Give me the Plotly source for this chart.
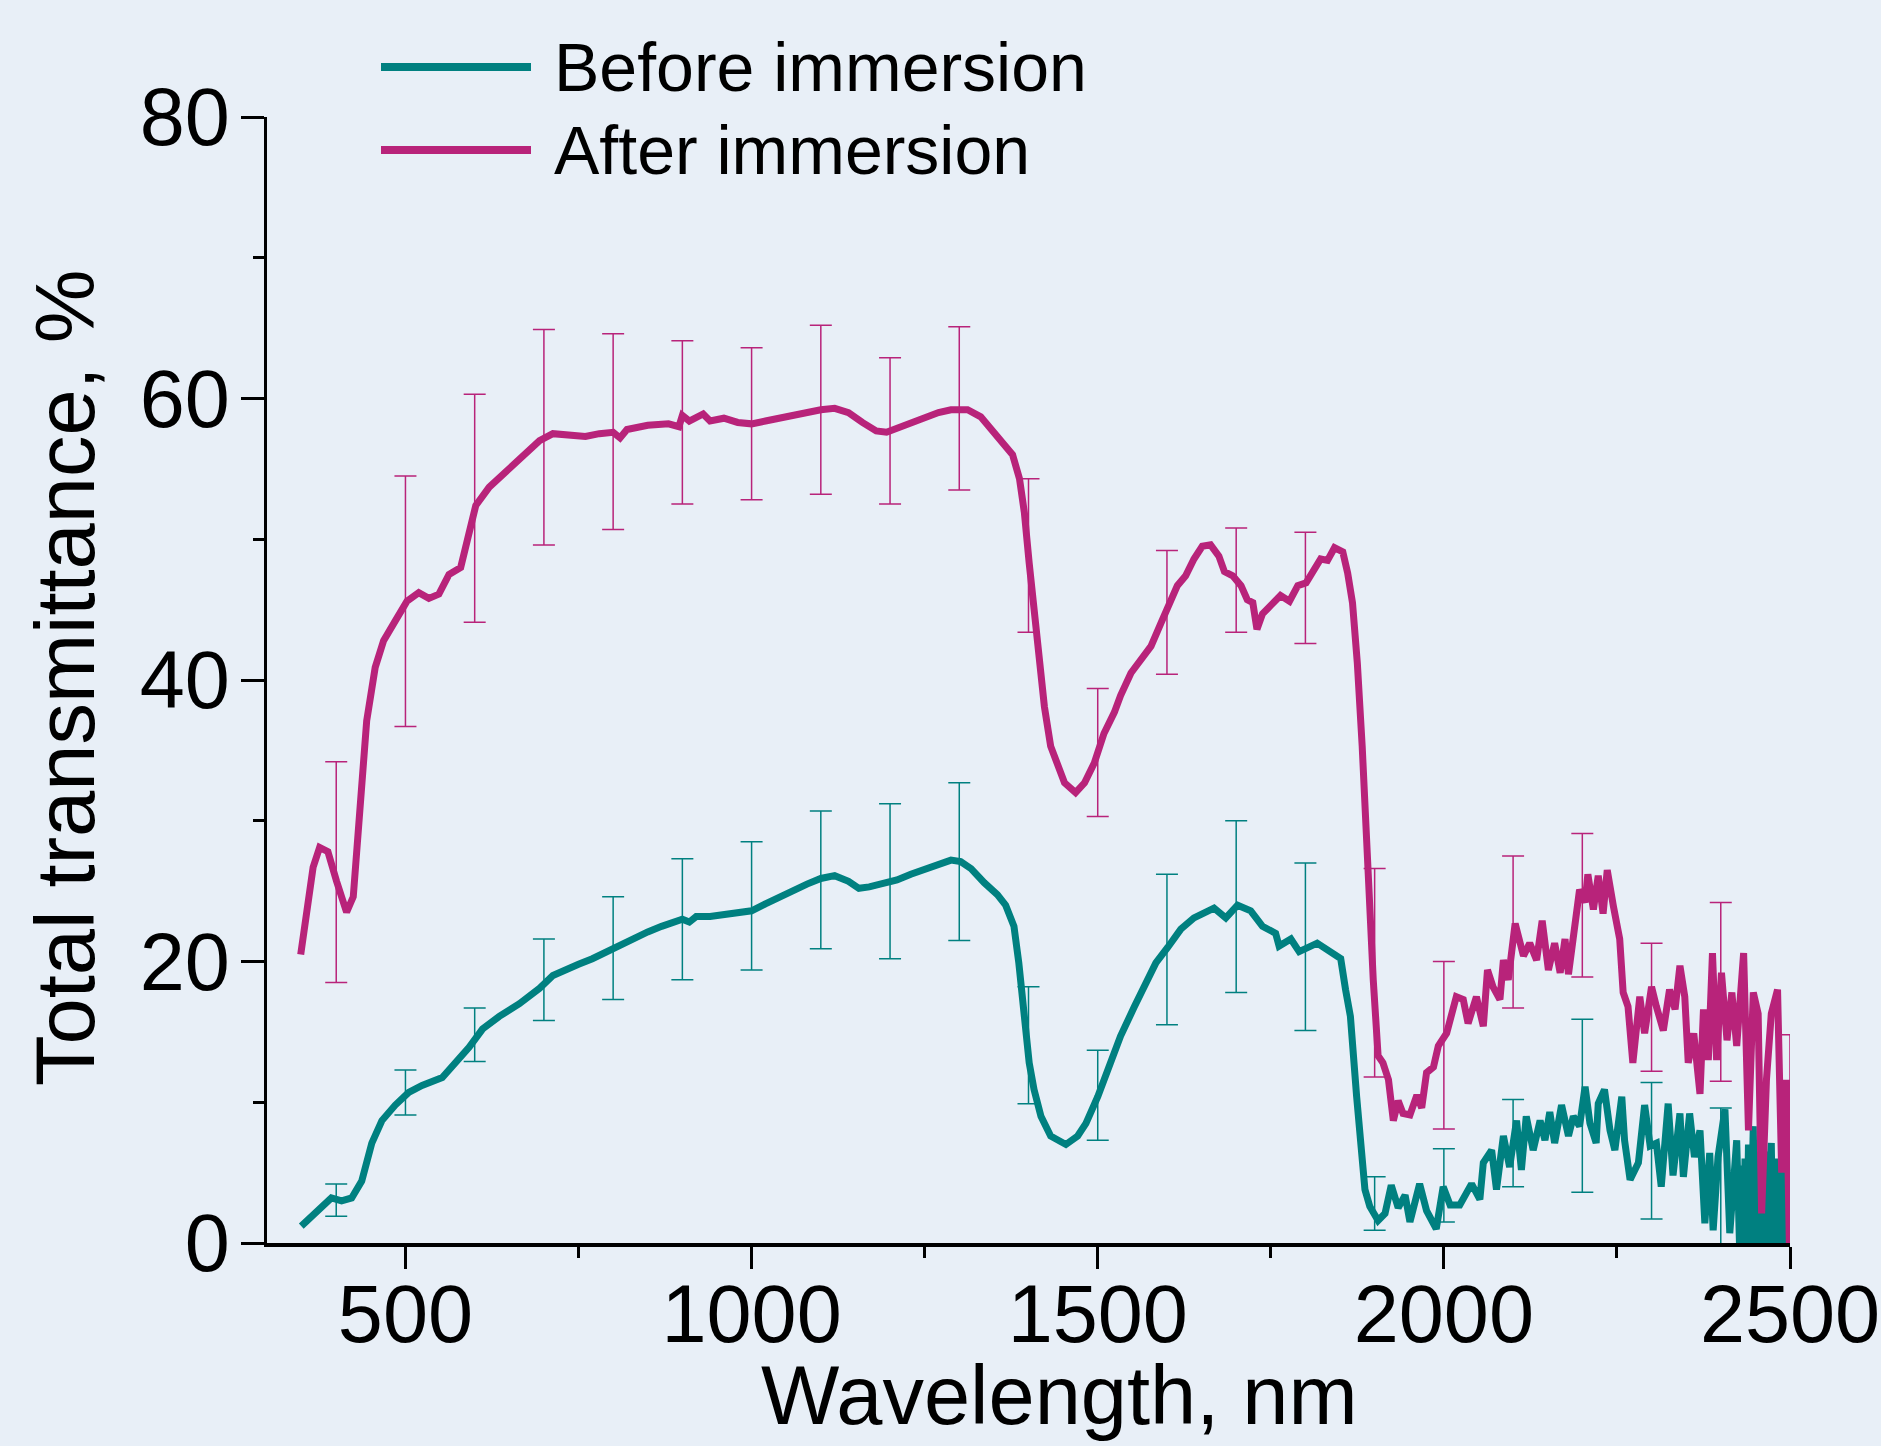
import plotly.graph_objects as go

# ---------------- data ----------------
before_wl = [349.5, 364, 378.6, 393, 407.7, 422.3, 436.8, 451.4, 466, 485.3, 504.7, 524, 553.2, 572.5, 591.9,
             611.3, 635.5, 664.6, 693.7, 713, 730, 750, 770, 790, 810, 830, 850, 870, 890, 900, 910, 920, 940,
             960, 980, 1000, 1020, 1040, 1060, 1080, 1100, 1120, 1140, 1155, 1170, 1190, 1210, 1230, 1250, 1270,
             1288, 1302, 1317, 1336, 1355, 1367, 1379, 1386, 1394, 1401, 1408, 1418, 1432, 1454, 1471, 1483,
             1500, 1514, 1533, 1553, 1567, 1584, 1601, 1620, 1639, 1668, 1685, 1702, 1721, 1738, 1757, 1762,
             1779, 1791, 1817, 1832, 1851, 1858, 1865, 1874, 1880, 1886, 1893, 1905, 1915, 1924, 1934, 1944,
             1951, 1965, 1975, 1989, 1999, 2009, 2023, 2040, 2052, 2057, 2069, 2076, 2086, 2095, 2105, 2112,
             2119, 2129, 2139, 2146, 2153, 2160, 2170, 2180, 2187, 2196, 2204, 2211, 2220, 2223, 2232, 2240,
             2247, 2257, 2261, 2269, 2281, 2290, 2298, 2307, 2314, 2324, 2331, 2341, 2346, 2355, 2362, 2370,
             2377, 2384, 2389, 2396, 2406, 2413, 2423, 2427, 2430, 2433, 2435, 2438, 2440, 2443, 2447, 2449,
             2451, 2454, 2457, 2459, 2461, 2464, 2466, 2468, 2471, 2473, 2475, 2477, 2480, 2483, 2485, 2487,
             2490, 2493, 2495, 2497, 2500]
before_val = [1.2, 1.9, 2.6, 3.2, 3.0, 3.2, 4.4, 7.1, 8.7, 9.8, 10.7, 11.2, 11.75, 12.8, 13.9,
              15.2, 16.1, 17.0, 18.1, 19.0, 19.4, 19.8, 20.2, 20.7, 21.2, 21.7, 22.1, 22.5, 22.8, 23.0, 22.8, 23.2, 23.2,
              23.3, 23.4, 23.6, 24.1, 24.6, 25.1, 25.5, 25.9, 26.1, 25.7, 25.2, 25.3, 25.5, 25.8, 26.2, 26.5, 26.9,
              27.2, 27.1, 26.6, 25.6, 24.75, 24.0, 22.5, 19.9, 16.4, 12.8, 10.9, 9.0, 7.6, 7.0, 7.6, 8.5,
              10.4, 12.3, 14.7, 16.8, 18.2, 19.9, 21.0, 22.3, 23.1, 23.8, 23.1, 24.0, 23.6, 22.5, 22.0, 21.1,
              21.6, 20.7, 21.3, 20.8, 20.2, 18.0, 16.1, 10.4, 6.8, 3.8, 2.6, 1.6, 2.1, 4.1, 2.5, 3.4,
              1.5, 4.2, 2.3, 1.0, 4.0, 2.7, 2.7, 4.2, 3.1, 5.7, 6.6, 3.8, 7.6, 5.4, 8.7, 5.2,
              9.0, 6.6, 8.7, 7.3, 9.3, 7.1, 9.8, 7.6, 9.0, 8.3, 11.1, 8.5, 7.1, 9.9, 10.9, 8.0,
              6.6, 10.4, 7.3, 4.5, 5.7, 9.8, 6.9, 7.1, 4.0, 9.9, 4.8, 9.2, 4.7, 9.2, 6.1, 8.0,
              1.4, 6.4, 0.9, 6.1, 9.5, 0.7, 7.3, 0.0, 5.5, 0.0, 6.0, 0.0, 7.0, 0.0, 8.3, 0.0,
              6.5, 0.0, 5.0, 0.0, 7.0, 0.0, 6.5, 0.0, 5.5, 7.1, 0.0, 4.5, 0.0, 6.0, 0.0, 5.0,
              5.4, 0.0, 4.5, 0.0, 3.0]

after_wl = [348.7, 357, 366.6, 376, 388, 400.5, 415, 424.6, 434.4, 444, 456.3, 468.4, 485.3, 502.2, 519.2,
            533.8, 548.3, 562.9, 579.8, 589.5, 601.6, 621, 645.2, 669.4, 693.7, 713, 740, 760, 780, 800, 810,
            820, 850, 880, 895, 900, 910, 920, 930, 940, 960, 980, 1000, 1020, 1040, 1060, 1080, 1100, 1120,
            1140, 1160, 1180, 1195, 1210, 1230, 1250, 1270, 1288, 1312, 1331, 1346, 1360, 1377, 1387, 1394,
            1401, 1408, 1416, 1423, 1432, 1442, 1452, 1468, 1481, 1495, 1509, 1524, 1533, 1548, 1562, 1577,
            1591, 1603, 1615, 1627, 1639, 1651, 1663, 1675, 1683, 1695, 1707, 1716, 1724, 1730, 1738, 1750,
            1764, 1777, 1789, 1801, 1813, 1822, 1832, 1842, 1854, 1861, 1868, 1875, 1882, 1887, 1893, 1898,
            1905, 1912, 1920, 1927, 1934, 1941, 1951, 1961, 1968, 1975, 1985, 1992, 2004, 2018, 2028, 2035,
            2047, 2052, 2057, 2063, 2071, 2081, 2086, 2093, 2103, 2115, 2124, 2134, 2142, 2151, 2160, 2168,
            2175, 2180, 2192, 2196, 2204, 2208, 2216, 2223, 2230, 2236, 2245, 2254, 2259, 2266, 2273, 2283,
            2290, 2300, 2307, 2317, 2326, 2334, 2341, 2348, 2353, 2361, 2370, 2375, 2382, 2388, 2394, 2401,
            2409, 2416, 2423, 2433, 2440, 2447, 2454, 2459, 2466, 2473, 2482, 2488, 2495, 2499]
after_val = [20.5, 23.5, 26.7, 28.1, 27.8, 25.7, 23.5, 24.6, 30.6, 37.1, 40.9, 42.8, 44.2, 45.6, 46.2,
             45.8, 46.1, 47.5, 48.0, 50.2, 52.4, 53.7, 54.8, 55.9, 57.0, 57.5, 57.4, 57.3, 57.5, 57.6, 57.2,
             57.8, 58.1, 58.2, 58.0, 58.8, 58.4, 58.7, 58.9, 58.4, 58.6, 58.3, 58.2, 58.4, 58.6, 58.9, 59.0, 59.2, 59.3,
             59.0, 58.3, 57.7, 57.6, 57.9, 58.3, 58.7, 59.0, 59.2, 59.2, 58.7, 57.8, 56.9, 56.0, 54.3, 51.9,
             48.3, 44.8, 41.2, 38.1, 35.3, 33.9, 32.7, 32.0, 32.7, 34.1, 36.2, 37.7, 38.9, 40.5, 41.5, 42.4,
             44.0, 45.3, 46.7, 47.4, 48.6, 49.5, 49.6, 48.8, 47.7, 47.4, 46.7, 45.7, 45.5, 43.6, 44.7, 45.3,
             46.0, 45.6, 46.7, 46.9, 47.9, 48.6, 48.5, 49.4, 49.1, 47.6, 45.5, 41.2, 35.3, 29.4, 23.4, 18.7,
             13.3, 12.8, 11.6, 8.7, 10.1, 9.2, 9.1, 10.5, 9.6, 12.1, 12.5, 14.0, 14.9, 17.5, 17.3, 15.6,
             17.5, 16.1, 15.4, 19.4, 18.2, 17.3, 20.1, 18.7, 22.7, 20.4, 21.3, 20.1, 22.9, 19.4, 21.3, 19.2,
             21.6, 19.1, 23.7, 25.1, 24.2, 26.2, 23.7, 26.1, 23.4, 26.5, 23.9, 21.6, 17.8, 16.8, 12.8, 17.5,
             14.9, 18.2, 16.8, 15.1, 18.0, 16.6, 19.7, 17.5, 12.8, 14.9, 10.6, 16.6, 13.0, 20.6, 13.0, 19.2,
             14.4, 17.8, 14.0, 20.6, 8.0, 17.8, 16.3, 2.1, 11.6, 16.3, 18.0, 5.0, 11.6, 0.0]

err_wl = [400, 500, 600, 700, 800, 900, 1000, 1100, 1200, 1300, 1400, 1500, 1600, 1700, 1800, 1900,
          2000, 2100, 2200, 2300, 2400, 2500]
before_err_mean = [3.05, 10.7, 14.8, 18.7, 20.95, 23.0, 23.95, 25.8, 25.7, 27.1, 14.05, 10.5, 20.85, 23.9,
                   21.05, 2.8, 4.1, 7.1, 9.75, 6.55, 4.5, 3.0]
before_err_sd = [1.15, 1.6, 1.9, 2.9, 3.65, 4.3, 4.55, 4.9, 5.5, 5.6, 4.15, 3.2, 5.35, 6.1, 5.95, 1.9,
                 2.6, 3.1, 6.15, 4.85, 5.1, 3.0]
after_err_mean = [26.35, 45.6, 52.2, 57.25, 57.65, 58.3, 58.2, 59.2, 57.7, 59.3, 48.85, 34.85, 44.8, 47.1,
                  46.55, 19.2, 14.05, 22.1, 24.0, 16.75, 17.85, 9.5]
after_err_sd = [7.85, 8.9, 8.1, 7.65, 6.95, 5.8, 5.4, 6.0, 5.2, 5.8, 5.45, 4.55, 4.4, 3.7, 3.95, 7.4,
                5.95, 5.4, 5.1, 4.55, 6.35, 5.3]

x_ticks = [500, 1000, 1500, 2000, 2500]
y_ticks = [0, 20, 40, 60, 80]
series_names = ["Before immersion", "After immersion"]

# ---------------- style ----------------
TEAL = "#008080"
MAG = "#B8237A"
BG = "#E8EFF7"
FONT = "Liberation Sans, Arial, sans-serif"

W, H = 1881, 1446
L, R, T, B = 267, 1790, 117, 1243


def px(xf):
    return (xf - L) / (R - L)


def py(yf):
    return (B - yf) / (B - T)


fig = go.Figure()

for m, s, c in [(before_err_mean, before_err_sd, TEAL), (after_err_mean, after_err_sd, MAG)]:
    fig.add_trace(go.Scatter(
        x=err_wl, y=m, mode="markers",
        marker=dict(size=1, color="rgba(0,0,0,0)"),
        error_y=dict(type="data", array=s, visible=True, color=c, thickness=1.5, width=11),
        showlegend=False, hoverinfo="skip"))

fig.add_trace(go.Scatter(x=before_wl, y=before_val, mode="lines", name=series_names[0],
                         line=dict(color=TEAL, width=7), showlegend=False))
fig.add_trace(go.Scatter(x=after_wl, y=after_val, mode="lines", name=series_names[1],
                         line=dict(color=MAG, width=7), showlegend=False))

# manual legend
for i, (name, col) in enumerate(zip(series_names, [TEAL, MAG])):
    yl = [67, 150][i]
    fig.add_shape(type="line", xref="paper", yref="paper",
                  x0=px(381), x1=px(531), y0=py(yl), y1=py(yl),
                  line=dict(color=col, width=8))
    fig.add_annotation(xref="paper", yref="paper", x=px(552), y=py(yl),
                       xanchor="left", yanchor="middle", text=name, showarrow=False,
                       font=dict(family=FONT, size=68, color="black"))

fig.add_annotation(xref="paper", yref="paper", x=px(1059), y=py(1395),
                   xanchor="center", yanchor="middle", text="Wavelength, nm", showarrow=False,
                   font=dict(family=FONT, size=83, color="black"))
fig.add_annotation(xref="paper", yref="paper", x=px(65), y=py(678),
                   xanchor="center", yanchor="middle", text="Total transmittance, %", showarrow=False,
                   textangle=-90, font=dict(family=FONT, size=83, color="black"))

fig.update_layout(
    width=W, height=H,
    margin=dict(l=L, r=W - R, t=T, b=H - B, pad=0, autoexpand=False),
    paper_bgcolor=BG, plot_bgcolor=BG,
    font=dict(family=FONT, color="black"),
    showlegend=False,
)
fig.update_xaxes(range=[300, 2500], tickmode="array", tickvals=x_ticks, automargin=False,
                 ticks="outside", ticklen=22, tickwidth=3, tickcolor="black",
                 minor=dict(ticks="outside", dtick=250, tick0=0, ticklen=11, tickwidth=3, tickcolor="black"),
                 showline=True, linewidth=4, linecolor="black", mirror=False,
                 showgrid=False, zeroline=False, ticklabelstandoff=-24,
                 tickfont=dict(family=FONT, size=81, color="black"))
fig.update_yaxes(range=[0, 80], tickmode="array", tickvals=y_ticks, automargin=False,
                 ticks="outside", ticklen=23, tickwidth=3, tickcolor="black",
                 minor=dict(ticks="outside", dtick=10, tick0=0, ticklen=11, tickwidth=3, tickcolor="black"),
                 showline=True, linewidth=3, linecolor="black", mirror=False,
                 showgrid=False, zeroline=False, ticklabelstandoff=-5,
                 tickfont=dict(family=FONT, size=81, color="black"))

fig.write_html("out.html", config={"displayModeBar": False},
               post_script="document.body.style.margin='0px';document.body.style.backgroundColor='%s';" % BG)
